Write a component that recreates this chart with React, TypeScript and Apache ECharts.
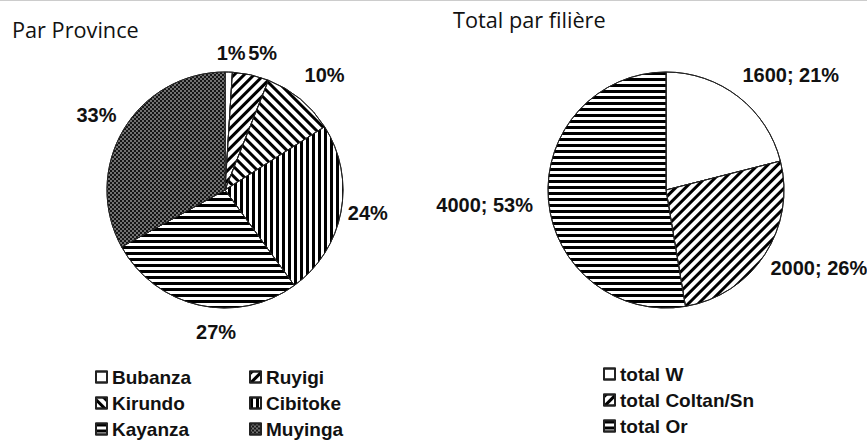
import React, { useEffect, useRef } from "react";
import * as echarts from "echarts";

const provinceNames = ["Bubanza", "Ruyigi", "Kirundo", "Cibitoke", "Kayanza", "Muyinga"];
const provinceValues = [1, 5, 10, 24, 27, 33];
const legendLeftCol1 = ["Bubanza", "Kirundo", "Kayanza"];
const legendLeftCol2 = ["Ruyigi", "Cibitoke", "Muyinga"];

const filiereNames = ["total W", "total Coltan/Sn", "total Or"];
const filiereValues = [1600, 2000, 4000];

const titleLeft = "Par Province";
const titleRight = "Total par filière";

const LABEL_FONT = "'Liberation Sans', Arial, sans-serif";
const TITLE_FONT = "'Open Sans', 'Noto Sans', sans-serif";

// label placement tweaks (style only)
const provinceLabelNudge = [[2, -4], [8, -4], [8, -4], [0, -4], [21, 8], [-3, -1]];
const filiereLabelNudge = [[26, 12], [11, -15], [-9, 1]];

const hStripes = {
  symbol: "rect", symbolSize: 1, color: "#000",
  dashArrayX: [1, 0], dashArrayY: [3, 3], rotation: 0,
};
const vStripes = {
  symbol: "rect", symbolSize: 1, color: "#000",
  dashArrayX: [3, 3], dashArrayY: [1, 0], rotation: 0,
};
const diagUp = {
  symbol: "rect", symbolSize: 1, color: "#000",
  dashArrayX: [1, 0], dashArrayY: [2.5, 3.5], rotation: -Math.PI / 4,
};
const diagDown = {
  symbol: "rect", symbolSize: 1, color: "#000",
  dashArrayX: [1, 0], dashArrayY: [2.5, 3.5], rotation: Math.PI / 4,
};
const dots = {
  symbol: "rect", symbolSize: 0.75, color: "#bbb",
  dashArrayX: [[2, 2], [0, 2, 2, 0]], dashArrayY: [2, 0], rotation: 0,
};
const none = { symbol: "none", dashArrayX: [1, 0], dashArrayY: [1, 0] };

const provinceStyles = [
  { color: "#fff", decal: none },
  { color: "#fff", decal: diagUp },
  { color: "#fff", decal: diagDown },
  { color: "#fff", decal: vStripes },
  { color: "#fff", decal: hStripes },
  { color: "#151515", decal: dots },
];
const filiereStyles = [
  { color: "#fff", decal: none },
  { color: "#fff", decal: diagUp },
  { color: "#fff", decal: hStripes },
];

const labelStyle = {
  fontFamily: LABEL_FONT,
  fontWeight: "bold",
  fontSize: 20,
  color: "#111",
};

function makeLabelLayout(values: number[], cx: number, cy: number, r: number, gap: number, nudges: number[][]) {
  const total = values.reduce((a, b) => a + b, 0);
  let cum = 0;
  const mids = values.map((v) => {
    const m = ((cum + v / 2) / total) * Math.PI * 2;
    cum += v;
    return m;
  });
  return (params: any) => {
    const i = params.dataIndex;
    const a = mids[i];
    const dx = Math.sin(a);
    const dy = -Math.cos(a);
    const w = params.labelRect.width;
    const h = Math.min(params.labelRect.height, 18);
    const he = (Math.abs(dx) * w) / 2 + (Math.abs(dy) * h) / 2;
    const d = r + gap + he;
    return {
      x: cx + dx * d + nudges[i][0],
      y: cy + dy * d + nudges[i][1],
      align: "center",
      verticalAlign: "middle",
      hideOverlap: false,
    };
  };
}

export default function App() {
  const ref = useRef<HTMLDivElement>(null);
  useEffect(() => {
    if (!ref.current) return;
    const chart = echarts.init(ref.current, null, { renderer: "svg" });
    const legendCommon = {
      orient: "vertical",
      icon: "rect",
      itemWidth: 11,
      itemHeight: 11,
      itemGap: 6,
      padding: 0,
      selectedMode: false,
      textStyle: { ...labelStyle, fontSize: 19, lineHeight: 20 },
    };
    const R = 118;
    chart.setOption({
      animation: false,
      backgroundColor: "#fff",
      graphic: [
        { type: "line", shape: { x1: 0, y1: 0.5, x2: 867, y2: 0.5 }, style: { stroke: "#ccc", lineWidth: 1 } },
        { type: "text", left: 12, top: 18, style: { text: titleLeft, font: `21.7px ${TITLE_FONT}`, fill: "#111" } },
        { type: "text", left: 453, top: 8, style: { text: titleRight, font: `21.7px ${TITLE_FONT}`, fill: "#111" } },
      ],
      legend: [
        { ...legendCommon, left: 95, top: 367, data: legendLeftCol1 },
        { ...legendCommon, left: 249, top: 367, data: legendLeftCol2 },
        { ...legendCommon, left: 603, top: 364, data: filiereNames },
      ],
      series: [
        {
          type: "pie",
          center: [225, 190],
          radius: R,
          startAngle: 90,
          clockwise: true,
          avoidLabelOverlap: false,
          label: { show: true, position: "outside", formatter: "{d}%", ...labelStyle },
          labelLine: { show: false, length: 12, length2: 0 },
          labelLayout: makeLabelLayout(provinceValues, 225, 190, R, 6, provinceLabelNudge),
          itemStyle: { borderColor: "#222", borderWidth: 1 },
          emphasis: { disabled: true },
          data: provinceNames.map((n, i) => ({
            name: n,
            value: provinceValues[i],
            itemStyle: provinceStyles[i],
          })),
        },
        {
          type: "pie",
          center: [666, 190],
          radius: R,
          startAngle: 90,
          clockwise: true,
          percentPrecision: 0,
          avoidLabelOverlap: false,
          label: { show: true, position: "outside", formatter: "{c}; {d}%", ...labelStyle },
          labelLine: { show: false, length: 14, length2: 0 },
          labelLayout: makeLabelLayout(filiereValues, 666, 190, R, 6, filiereLabelNudge),
          itemStyle: { borderColor: "#222", borderWidth: 1 },
          emphasis: { disabled: true },
          data: filiereNames.map((n, i) => ({
            name: n,
            value: filiereValues[i],
            itemStyle: filiereStyles[i],
          })),
        },
      ],
    });
    return () => chart.dispose();
  }, []);
  return (
    <div
      ref={ref}
      style={{ position: "fixed", left: 0, top: 0, width: 867, height: 443 }}
    />
  );
}
